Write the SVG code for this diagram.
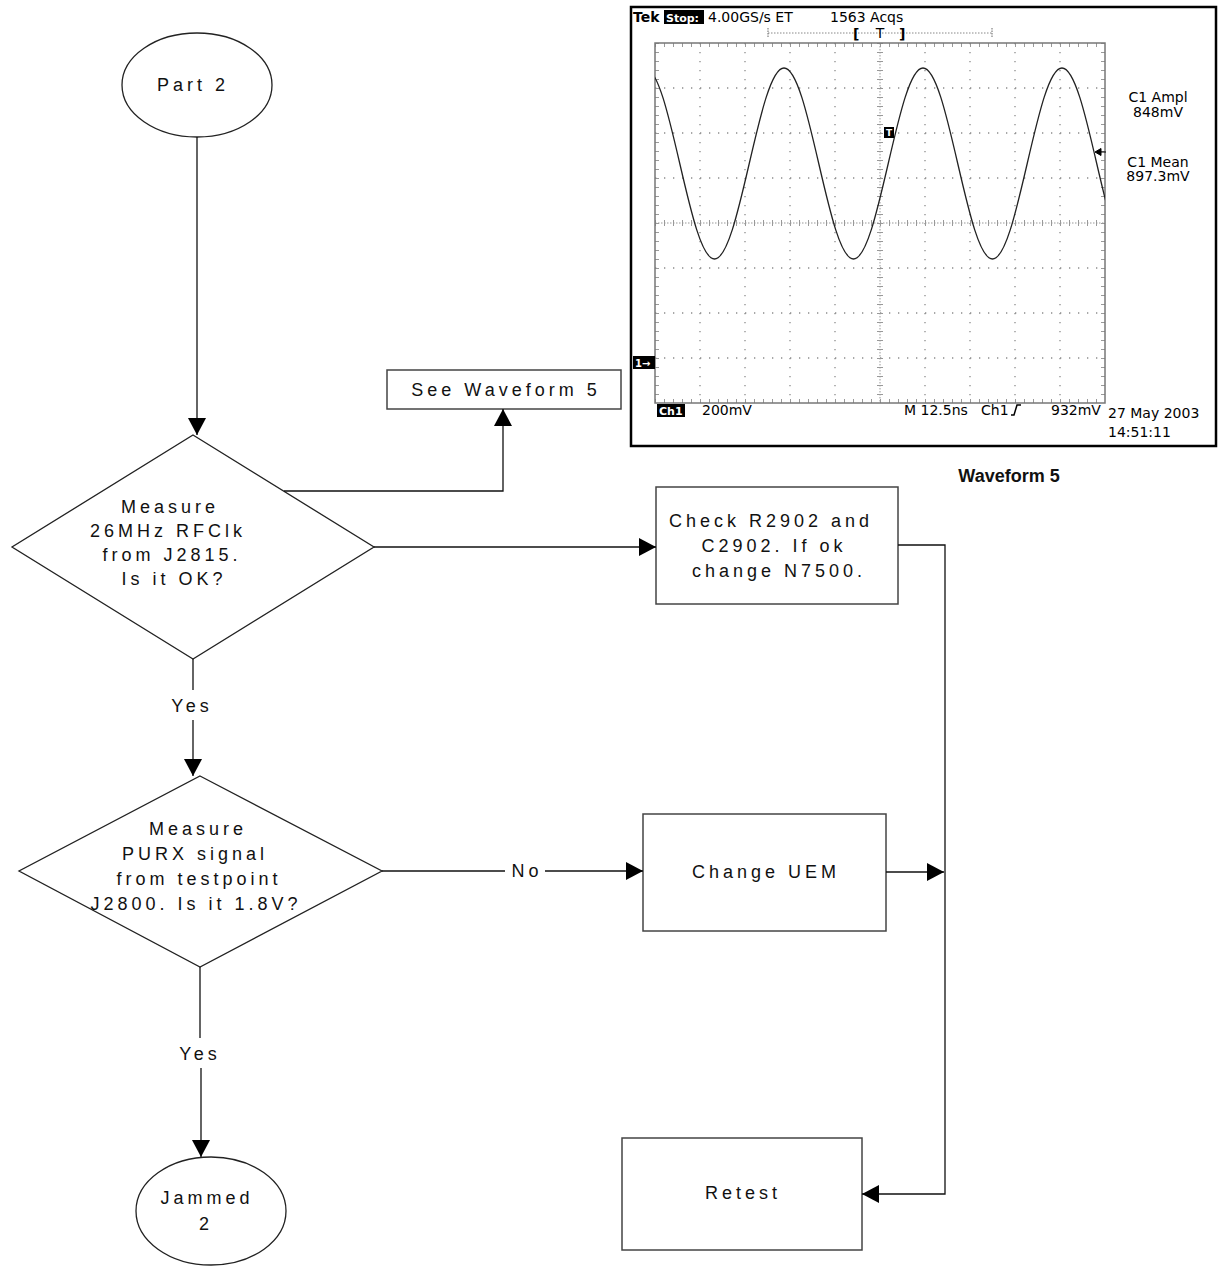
<svg xmlns="http://www.w3.org/2000/svg" width="1218" height="1271" viewBox="0 0 1218 1271">
<style>
.fc{font-family:"Liberation Sans",Arial,sans-serif;font-size:18px;letter-spacing:4px;text-anchor:middle;fill:#111}
.sc{font-family:"DejaVu Sans",sans-serif;font-size:14px;fill:#000}
.scw{font-family:"DejaVu Sans",sans-serif;font-weight:bold;fill:#fff}
.shape{fill:#fff;stroke:#222;stroke-width:1.3}
.box{fill:#fff;stroke:#444;stroke-width:1.5}
.conn{fill:none;stroke:#111;stroke-width:1.3}
.arr{marker-end:url(#ah)}
.grid{fill:none;stroke:#8c8c8c;stroke-width:1.3;stroke-dasharray:1.3 7.7}
</style>
<defs>
<marker id="ah" viewBox="0 0 17 18" refX="17" refY="9" markerWidth="17" markerHeight="18" markerUnits="userSpaceOnUse" orient="auto">
<path d="M0,0 L17,9 L0,18 z" fill="#000"/>
</marker>
<clipPath id="plotclip"><rect x="655" y="43" width="450" height="360"/></clipPath>
</defs>

<!-- Oscilloscope screenshot -->
<g id="scope">
<rect x="631" y="7" width="585" height="439" fill="#fff" stroke="#000" stroke-width="2.5"/>
<text class="sc" x="633" y="22" font-weight="bold">Tek</text>
<rect x="664" y="10" width="40" height="14" fill="#000"/>
<text class="scw" x="666" y="21.5" font-size="11">Stop:</text>
<text class="sc" x="708" y="22">4.00GS/s ET</text>
<text class="sc" x="830" y="22">1563 Acqs</text>
<line x1="768" y1="33" x2="992" y2="33" stroke="#888" stroke-width="1" stroke-dasharray="1.5 1.5"/>
<line x1="768" y1="28" x2="768" y2="38" stroke="#666" stroke-width="1" stroke-dasharray="1.5 1"/>
<line x1="992" y1="28" x2="992" y2="38" stroke="#666" stroke-width="1" stroke-dasharray="1.5 1"/>
<text class="sc" x="853" y="39" font-weight="bold">[</text>
<text class="sc" x="880" y="38" font-size="11" text-anchor="middle">T</text>
<text class="sc" x="899" y="39" font-weight="bold">]</text>

<!-- graticule -->
<path class="grid" d="M700,43V403M745,43V403M790,43V403M835,43V403M925,43V403M970,43V403M1015,43V403M1060,43V403"/>
<path class="grid" d="M655,88H1105M655,133H1105M655,178H1105M655,268H1105M655,313H1105M655,358H1105"/>
<path d="M880,43V403M655,223H1105" fill="none" stroke="#999" stroke-width="1" stroke-dasharray="1.5 1.5"/>
<path d="M880,43V403" fill="none" stroke="#999" stroke-width="6" stroke-dasharray="1 8"/>
<path d="M655,223H1105" fill="none" stroke="#999" stroke-width="6" stroke-dasharray="1 8"/>
<path d="M657,43V403M1103,43V403" fill="none" stroke="#999" stroke-width="4" stroke-dasharray="1 8"/>
<path d="M655,45H1105M655,401H1105" fill="none" stroke="#999" stroke-width="4" stroke-dasharray="1 8"/>
<rect x="655" y="43" width="450" height="360" fill="none" stroke="#777" stroke-width="1.5"/>

<!-- waveform -->
<g clip-path="url(#plotclip)">
<path transform="translate(784,163.5) scale(22.12,-95.5)" vector-effect="non-scaling-stroke" fill="none" stroke="#222" stroke-width="1.3"
 d="M-6.2832,1
 c0.5685,0 1.0585,-0.4877 1.5708,-1 c0.5123,-0.5123 1.0023,-1 1.5708,-1 c0.5685,0 1.0585,0.4877 1.5708,1 c0.5123,0.5123 1.0023,1 1.5708,1
 c0.5685,0 1.0585,-0.4877 1.5708,-1 c0.5123,-0.5123 1.0023,-1 1.5708,-1 c0.5685,0 1.0585,0.4877 1.5708,1 c0.5123,0.5123 1.0023,1 1.5708,1
 c0.5685,0 1.0585,-0.4877 1.5708,-1 c0.5123,-0.5123 1.0023,-1 1.5708,-1 c0.5685,0 1.0585,0.4877 1.5708,1 c0.5123,0.5123 1.0023,1 1.5708,1
 c0.5685,0 1.0585,-0.4877 1.5708,-1 c0.5123,-0.5123 1.0023,-1 1.5708,-1"/>
</g>
<rect x="884" y="127" width="10" height="11" fill="#000"/>
<text class="scw" x="889" y="136" font-size="9" text-anchor="middle">T</text>
<path d="M1095,152 L1101,148.5 L1101,155.5 z M1101,152 H1106" fill="#000" stroke="#000" stroke-width="1"/>

<rect x="633" y="356" width="22" height="13" fill="#000"/>
<text class="scw" x="635" y="366.5" font-size="10">1→</text>

<text class="sc" x="1158" y="102" font-size="13" text-anchor="middle">C1 Ampl</text>
<text class="sc" x="1158" y="117" font-size="13" text-anchor="middle">848mV</text>
<text class="sc" x="1158" y="167" font-size="13" text-anchor="middle">C1 Mean</text>
<text class="sc" x="1158" y="181" font-size="13" text-anchor="middle">897.3mV</text>

<rect x="657" y="404" width="28" height="13" fill="#000"/>
<text class="scw" x="659" y="415" font-size="11">Ch1</text>
<text class="sc" x="702" y="415">200mV</text>
<text class="sc" x="904" y="415">M 12.5ns</text>
<text class="sc" x="981" y="415">Ch1</text>
<path d="M1011,415 H1014 L1017,405 H1021" fill="none" stroke="#000" stroke-width="1.5"/>
<text class="sc" x="1051" y="415">932mV</text>
<text class="sc" x="1108" y="418">27 May 2003</text>
<text class="sc" x="1108" y="437">14:51:11</text>
</g>

<text id="waveform-caption" x="1009" y="482" text-anchor="middle" font-family="Liberation Sans, Arial, sans-serif" font-weight="bold" font-size="18" fill="#111">Waveform 5</text>

<!-- Nodes -->
<g id="part2">
<ellipse class="shape" cx="197" cy="85" rx="75" ry="52"/>
<text class="fc" x="193" y="91">Part 2</text>
</g>

<g id="see-waveform">
<rect class="box" x="387" y="370" width="234" height="39"/>
<text class="fc" x="506" y="396">See Waveform 5</text>
</g>

<g id="decision1">
<polygon class="shape" points="193,435 374,547 193,659 12,547"/>
<text class="fc" x="170" y="513">Measure</text>
<text class="fc" x="168" y="537">26MHz RFClk</text>
<text class="fc" x="172" y="561">from J2815.</text>
<text class="fc" x="174" y="585">Is it OK?</text>
</g>

<g id="check-box">
<rect class="box" x="656" y="487" width="242" height="117"/>
<text class="fc" x="771" y="527">Check R2902 and</text>
<text class="fc" x="774" y="552">C2902. If ok</text>
<text class="fc" x="779" y="577">change N7500.</text>
</g>

<g id="decision2">
<polygon class="shape" points="200,776 382,871 200,967 19,871"/>
<text class="fc" x="198" y="835">Measure</text>
<text class="fc" x="195" y="860">PURX signal</text>
<text class="fc" x="199" y="885">from testpoint</text>
<text class="fc" x="196" y="910">J2800. Is it 1.8V?</text>
</g>

<g id="change-uem">
<rect class="box" x="643" y="814" width="243" height="117"/>
<text class="fc" x="766" y="878">Change UEM</text>
</g>

<g id="jammed2">
<ellipse class="shape" cx="211" cy="1211" rx="75" ry="54"/>
<text class="fc" x="207" y="1204">Jammed</text>
<text class="fc" x="206" y="1230">2</text>
</g>

<g id="retest">
<rect class="box" x="622" y="1138" width="240" height="112"/>
<text class="fc" x="743" y="1199">Retest</text>
</g>

<!-- Connectors -->
<g id="connectors">
<path class="conn arr" d="M197,137 V435"/>
<path class="conn arr" d="M284,491 H503 V409"/>
<path class="conn arr" d="M374,547 H656"/>
<path class="conn" d="M193,659 V690"/>
<text class="fc" x="192" y="712">Yes</text>
<path class="conn arr" d="M193,720 V776"/>
<path class="conn" d="M382,871 H505"/>
<text class="fc" x="527" y="877">No</text>
<path class="conn arr" d="M545,871 H643"/>
<path class="conn" d="M200,967 V1038"/>
<text class="fc" x="200" y="1060">Yes</text>
<path class="conn arr" d="M201,1068 V1157"/>
<path class="conn arr" d="M898,545 H945 V1194 H862"/>
<path class="conn arr" d="M886,872 H944"/>
</g>
</svg>
